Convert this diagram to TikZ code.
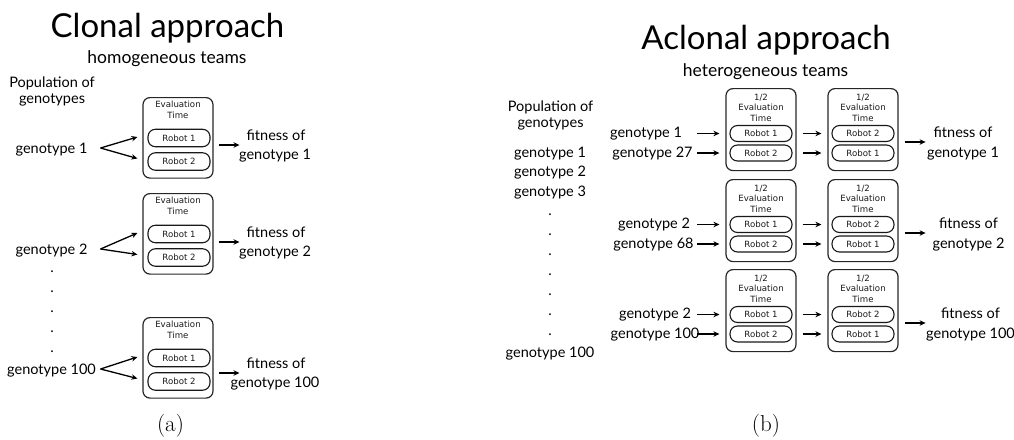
\documentclass[tikz,border=0pt]{standalone}
\usepackage{fontspec}
\newfontfamily\gill{Lato}
\newfontfamily\dvs{DejaVu Sans}
\usetikzlibrary{arrows.meta,calc}
\tikzset{
  lbl/.style={font=\gill\fontsize{14.5}{17}\selectfont, inner sep=0pt, anchor=base},
  ttl/.style={font=\gill\fontsize{33}{36}\selectfont, inner sep=0pt, anchor=base},
  subttl/.style={font=\gill\fontsize{17.5}{20}\selectfont, inner sep=0pt, anchor=base},
  evalbox/.style={draw=black!85, line width=1.2pt, rounded corners=7pt, minimum width=70pt, inner sep=0pt},
  pill/.style={draw=black!90, line width=1.1pt, rounded corners=7.5pt, minimum width=62pt, minimum height=16pt, inner sep=0pt, font=\dvs\fontsize{8.6}{10}\selectfont, text=black!90},
  evtxt/.style={font=\dvs\fontsize{8.6}{10.5}\selectfont, align=center, inner sep=0pt, text=black!90},
  arr/.style={-{Stealth[length=6pt,width=5.5pt]}, line width=1.3pt},
  dotlbl/.style={font=\gill\fontsize{14.5}{17}\selectfont, inner sep=0pt},
  caplbl/.style={font=\fontsize{23}{25}\selectfont, inner sep=0pt},
}
% Clonal row: #1 id, #2 top, #3 genotype text, #4 genotype baseline, #5 fitness first baseline
\newcommand\CRow[5]{%
  \node[evalbox, minimum height=80.5pt, anchor=north] (box#1) at (178,#2) {};
  \node[evtxt] (ev#1) at (178,#2+13) {Evaluation\\Time};
  \node[pill, minimum height=17.5pt] (ra#1) at (179,#2+41) {Robot 1};
  \node[pill, minimum height=17.5pt] (rb#1) at (179,#2+64.5) {Robot 2};
  \node[lbl] (g#1) at (51.5,#4) {#3};
  \coordinate (fk#1) at ($(g#1.base)+(49,-5)$);
  \draw[arr] (fk#1) -- ($(box#1.west |- ra#1.center)+(-5,-1)$);
  \draw[arr] (fk#1) -- ($(box#1.west |- rb#1.center)+(-5,-3)$);
  \node[lbl] (fa#1) at (276,#5) {fitness of};
  \node[lbl] (fb#1) at (275,#5+19.5) {#3};
  \draw[arr] ($(box#1.east |- fa#1.base)+(5,5)$) -- ($(fa#1.west |- fa#1.base)+(-7,5)$);
}
% Aclonal row: #1 id, #2 top, #3 gen A, #4 xA, #5 gen B, #6 xB, #7 fitness line 2, #8 fitness x
\newcommand\ARow[8]{%
  \node[evalbox, minimum height=82pt, anchor=north] (bA#1) at (761,#2) {};
  \node[evalbox, minimum height=82pt, anchor=north] (bB#1) at (863,#2) {};
  \node[evtxt] (evA#1) at (761,#2+19.5) {1/2\\Evaluation\\Time};
  \node[evtxt] (evB#1) at (863,#2+19.5) {1/2\\Evaluation\\Time};
  \node[pill] (pA1#1) at (761,#2+45.5) {Robot 1};
  \node[pill] (pA2#1) at (761,#2+65) {Robot 2};
  \node[pill] (pB1#1) at (863,#2+45.5) {Robot 2};
  \node[pill] (pB2#1) at (863,#2+65) {Robot 1};
  \node[lbl] (ga#1) at (#4,#2+49.5) {#3};
  \node[lbl] (gb#1) at (#6,#2+69) {#5};
  \draw[arr] ($(bA#1.west |- pA1#1.center)+(-28,0)$) -- ($(bA#1.west |- pA1#1.center)+(-6,0)$);
  \draw[arr] ($(bA#1.west |- pA2#1.center)+(-28,0)$) -- ($(bA#1.west |- pA2#1.center)+(-6,0)$);
  \draw[arr] ($(bA#1.east |- pA1#1.center)+(6,0)$) -- ($(bB#1.west |- pB1#1.center)+(-6,0)$);
  \draw[arr] ($(bA#1.east |- pA2#1.center)+(6,0)$) -- ($(bB#1.west |- pB2#1.center)+(-6,0)$);
  \node[lbl] (fa#1) at (#8,#2+49) {fitness of};
  \node[lbl] (fb#1) at (#8,#2+69) {#7};
  \draw[arr] ($(bB#1.east |- fa#1.base)+(6,5)$) -- ($(bB#1.east |- fa#1.base)+(27,5)$);
}
\begin{document}
\begin{tikzpicture}[x=1pt,y=-1pt]
\useasboundingbox (0,0) rectangle (1014,439);
% ---------- (a) clonal ----------
\node[ttl] (t1) at (167.5,37) {Clonal approach};
\node[subttl] (s1) at (167,63) {homogeneous teams};
\node[lbl] (popa1) at (52,87) {Population of};
\node[lbl] (popa2) at (52,103) {genotypes};
\CRow{1}{97}{genotype 1}{153}{140}
\CRow{2}{193}{genotype 2}{254}{237}
\CRow{3}{317}{genotype 100}{374}{368}
\foreach \yy [count=\i] in {272,292,312,332,352}
  \node[dotlbl] (da\i) at (52,\yy) {.};
\node[caplbl] (capa) at (170.5,426) {(a)};
% ---------- (b) aclonal ----------
\node[ttl] (t2) at (766,49) {Aclonal approach};
\node[subttl] (s2) at (765.5,76) {heterogeneous teams};
\node[lbl] (popb1) at (550.5,111) {Population of};
\node[lbl] (popb2) at (550.5,127) {genotypes};
\node[lbl] (lg1) at (550,157) {genotype 1};
\node[lbl] (lg2) at (550,176) {genotype 2};
\node[lbl] (lg3) at (550,196) {genotype 3};
\foreach \yy [count=\i] in {215,235,255,275,295,315,335}
  \node[dotlbl] (db\i) at (550,\yy) {.};
\node[lbl] (lg100) at (550,357) {genotype 100};
\ARow{1}{88}{genotype 1}{646}{genotype 27}{652.5}{genotype 1}{963}
\ARow{2}{179}{genotype 2}{654}{genotype 68}{653.5}{genotype 2}{968.5}
\ARow{3}{269}{genotype 2}{655}{genotype 100}{655}{genotype 100}{970.5}
\node[caplbl] (capb) at (766,426) {(b)};
\end{tikzpicture}
\end{document}
